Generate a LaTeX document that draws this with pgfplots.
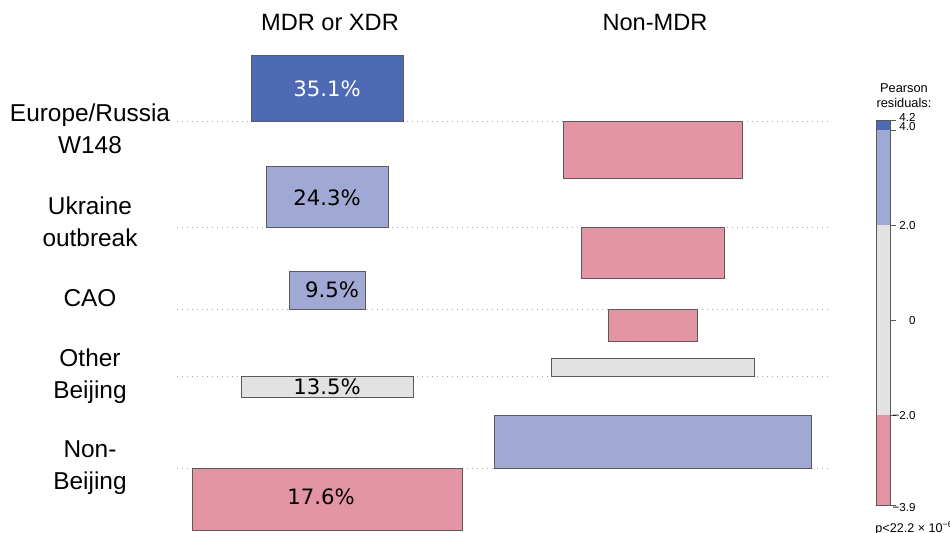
\documentclass[border=0pt]{standalone}
\usepackage{fontspec}
\setmainfont{Liberation Sans}
\newfontfamily\dejavu{DejaVu Sans}
\usepackage{pgfplots}
\pgfplotsset{compat=1.18}
\definecolor{posHi}{HTML}{4F6AB4}
\definecolor{posLo}{HTML}{A0A8D4}
\definecolor{neut}{HTML}{E2E2E2}
\definecolor{negLo}{HTML}{E495A5}
\definecolor{edge}{HTML}{5A5A5A}
\definecolor{dotc}{HTML}{A8A8A8}
\begin{document}
\begin{tikzpicture}
\begin{axis}[
  x=0.5pt, y=0.5pt,
  xmin=0, xmax=950, ymin=0, ymax=532,
  y dir=reverse,
  hide axis,
  clip=false,
  every axis plot/.append style={line width=0.5pt},
]
\coordinate (bbA) at (axis cs:0,0);
\coordinate (bbB) at (axis cs:950,532);
% baselines (dotted)
\foreach \b in {121,227,309,376,468}{
  \edef\tmp{\noexpand\addplot[dotc, dotted, line width=0.5pt] coordinates {(177,\b) (830,\b)};}
  \tmp
}
% ---- MDR or XDR column (center 327) ----
\addplot[fill=posHi, draw=edge] coordinates {(251,55) (403,55) (403,121) (251,121)} -- cycle;
\addplot[fill=posLo, draw=edge] coordinates {(266,166) (388,166) (388,227) (266,227)} -- cycle;
\addplot[fill=posLo, draw=edge] coordinates {(289,271) (365,271) (365,309) (289,309)} -- cycle;
\addplot[fill=neut, draw=edge] coordinates {(241,376) (413,376) (413,397) (241,397)} -- cycle;
\addplot[fill=negLo, draw=edge] coordinates {(192,468) (462,468) (462,530) (192,530)} -- cycle;
% ---- Non-MDR column (center 652.5) ----
\addplot[fill=negLo, draw=edge] coordinates {(563,121) (742,121) (742,178) (563,178)} -- cycle;
\addplot[fill=negLo, draw=edge] coordinates {(581,227) (724,227) (724,278) (581,278)} -- cycle;
\addplot[fill=negLo, draw=edge] coordinates {(608,309) (697,309) (697,341) (608,341)} -- cycle;
\addplot[fill=neut, draw=edge] coordinates {(551,358) (754,358) (754,376) (551,376)} -- cycle;
\addplot[fill=posLo, draw=edge] coordinates {(494,415) (811,415) (811,468) (494,468)} -- cycle;
% ---- legend bar ----
\addplot[fill=posHi, draw=none] coordinates {(876,120.5) (890,120.5) (890,130) (876,130)} -- cycle;
\addplot[fill=posLo, draw=none] coordinates {(876,130) (890,130) (890,225) (876,225)} -- cycle;
\addplot[fill=neut, draw=none] coordinates {(876,225) (890,225) (890,415) (876,415)} -- cycle;
\addplot[fill=negLo, draw=none] coordinates {(876,415) (890,415) (890,505) (876,505)} -- cycle;
\addplot[draw=edge, fill=none] coordinates {(876,120.5) (890,120.5) (890,505) (876,505)} -- cycle;
\foreach \t in {120.5,130,225,320,415,505}{
  \edef\tmp{\noexpand\addplot[edge, line width=0.5pt] coordinates {(890,\t) (896,\t)};}
  \tmp
}
% percent labels
\node[font=\dejavu\fontsize{10.6}{12}\selectfont, text=white] at (axis cs:327,89) {35.1\%};
\node[font=\dejavu\fontsize{10.6}{12}\selectfont] at (axis cs:327,198) {24.3\%};
\node[font=\dejavu\fontsize{10.6}{12}\selectfont] at (axis cs:332,290) {9.5\%};
\node[font=\dejavu\fontsize{10.6}{12}\selectfont] at (axis cs:327,387) {13.5\%};
\node[font=\dejavu\fontsize{10.6}{12}\selectfont] at (axis cs:321,497) {17.6\%};
% column headers
\node[font=\fontsize{11.8}{14}\selectfont] at (axis cs:330,22) {MDR or XDR};
\node[font=\fontsize{11.8}{14}\selectfont] at (axis cs:655,22) {Non-MDR};
% row labels
\node[font=\fontsize{12.2}{16}\selectfont, align=center] at (axis cs:90,129) {Europe/Russia\\W148};
\node[font=\fontsize{12.2}{16}\selectfont, align=center] at (axis cs:90,222) {Ukraine\\outbreak};
\node[font=\fontsize{12.2}{16}\selectfont, align=center] at (axis cs:90,298) {CAO};
\node[font=\fontsize{12.2}{16}\selectfont, align=center] at (axis cs:90,376) {Other\\Beijing};
\node[font=\fontsize{12.2}{16}\selectfont, align=center] at (axis cs:90,468) {Non-\\Beijing};
% legend text
\node[font=\fontsize{6.4}{7.6}\selectfont, align=center] at (axis cs:904,96) {Pearson\\residuals:};
\node[font=\fontsize{5.8}{6}\selectfont, anchor=east, inner sep=0pt] at (axis cs:916,117) {4.2};
\node[font=\fontsize{5.8}{6}\selectfont, anchor=east, inner sep=0pt] at (axis cs:916,126) {4.0};
\node[font=\fontsize{5.8}{6}\selectfont, anchor=east, inner sep=0pt] at (axis cs:916,225) {2.0};
\node[font=\fontsize{5.8}{6}\selectfont, anchor=east, inner sep=0pt] at (axis cs:916,320) {0};
\node[font=\fontsize{5.8}{6}\selectfont, anchor=east, inner sep=0pt] at (axis cs:916,415) {−2.0};
\node[font=\fontsize{5.8}{6}\selectfont, anchor=east, inner sep=0pt] at (axis cs:916,507) {−3.9};
\node[font=\fontsize{6.3}{7}\selectfont, anchor=west, inner sep=0pt] at (axis cs:875,528) {p<22.2 × 10\textsuperscript{−6}};
\end{axis}
\pgfresetboundingbox
\path (bbA) rectangle (bbB);
\end{tikzpicture}
\end{document}
